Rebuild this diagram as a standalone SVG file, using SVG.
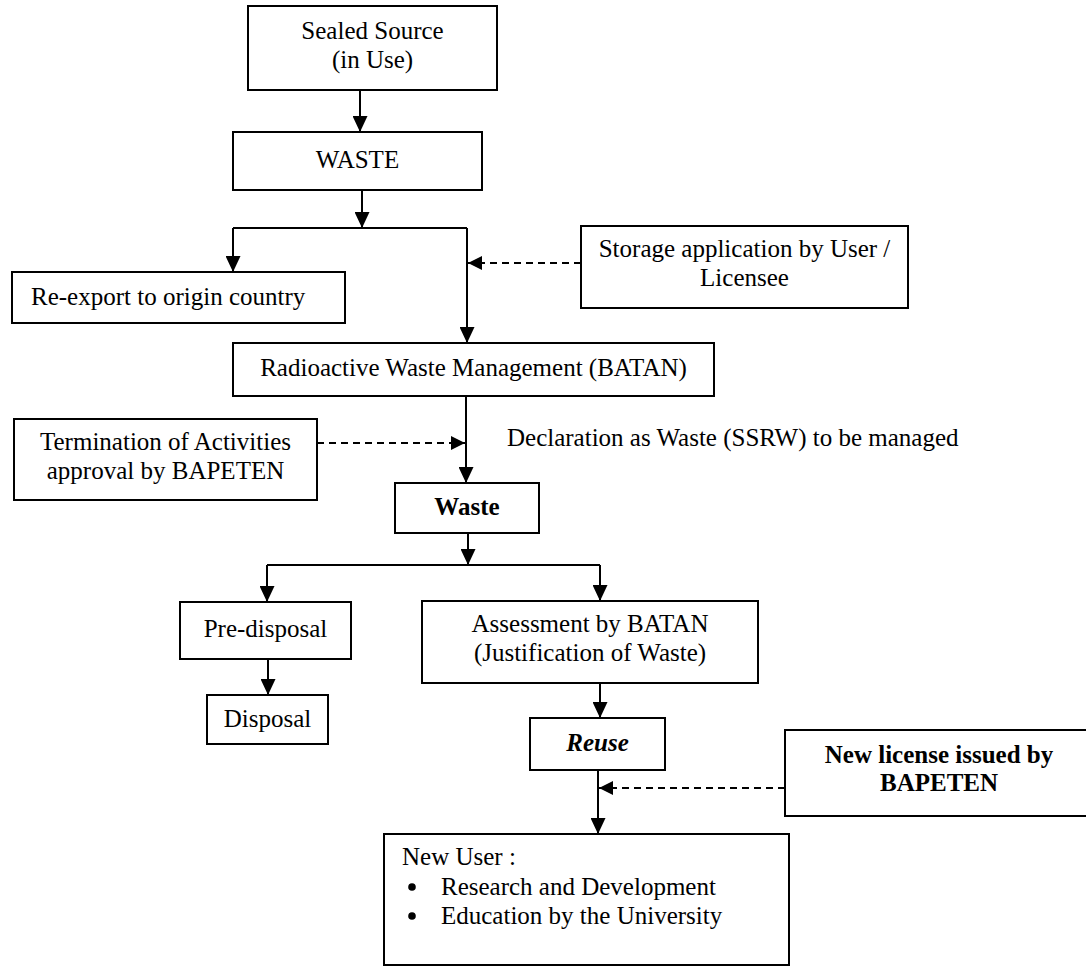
<svg xmlns="http://www.w3.org/2000/svg" width="1086" height="967" viewBox="0 0 1086 967">
<style>
  .box { fill: #fff; stroke: #000; stroke-width: 2; }
  .t { font-family: "Liberation Serif", "Times New Roman", serif; font-size: 25px; fill: #000; }
  .c { text-anchor: middle; }
  .b { font-weight: bold; }
  .bi { font-weight: bold; font-style: italic; }
  .ln { fill: none; stroke: #000; stroke-width: 2; }
  .dash { stroke-dasharray: 7 5; }
</style>
<defs>
  <marker id="ah" markerUnits="userSpaceOnUse" markerWidth="17" markerHeight="15" viewBox="0 0 17 15" refX="16" refY="7.5" orient="auto">
    <path d="M0,0 L16,7.5 L0,15 Z" fill="#000"/>
  </marker>
  <marker id="ahd" markerUnits="userSpaceOnUse" markerWidth="15" markerHeight="14" viewBox="0 0 15 14" refX="14" refY="7" orient="auto">
    <path d="M0,0 L14,7 L0,14 Z" fill="#000"/>
  </marker>
</defs>
<rect width="1086" height="967" fill="#fff"/>

<g id="connectors">
  <line class="ln" x1="360" y1="90" x2="360" y2="132" marker-end="url(#ah)"/>
  <line class="ln" x1="362" y1="190" x2="362" y2="228" marker-end="url(#ah)"/>
  <polyline class="ln" points="233,228 467,228"/>
  <line class="ln" x1="233" y1="228" x2="233" y2="272" marker-end="url(#ah)"/>
  <line class="ln" x1="467" y1="228" x2="467" y2="343" marker-end="url(#ah)"/>
  <line class="ln dash" x1="581" y1="263" x2="468" y2="263" marker-end="url(#ahd)"/>
  <line class="ln" x1="466" y1="396" x2="466" y2="483" marker-end="url(#ah)"/>
  <line class="ln dash" x1="317" y1="443" x2="465" y2="443" marker-end="url(#ahd)"/>
  <line class="ln" x1="468" y1="533" x2="468" y2="565" marker-end="url(#ah)"/>
  <polyline class="ln" points="267,565 600,565"/>
  <line class="ln" x1="267" y1="565" x2="267" y2="602" marker-end="url(#ah)"/>
  <line class="ln" x1="600" y1="565" x2="600" y2="601" marker-end="url(#ah)"/>
  <line class="ln" x1="268" y1="659" x2="268" y2="695" marker-end="url(#ah)"/>
  <line class="ln" x1="600" y1="683" x2="600" y2="718" marker-end="url(#ah)"/>
  <line class="ln" x1="598" y1="770" x2="598" y2="834" marker-end="url(#ah)"/>
  <line class="ln dash" x1="785" y1="788" x2="599" y2="788" marker-end="url(#ahd)"/>
</g>

<g id="sealed-source">
  <rect class="box" x="248" y="6" width="249" height="84"/>
  <text class="t c" x="372.5" y="39">Sealed Source</text>
  <text class="t c" x="372.5" y="68">(in Use)</text>
</g>
<g id="waste-top">
  <rect class="box" x="233" y="132" width="249" height="58"/>
  <text class="t c" x="357.5" y="168">WASTE</text>
</g>
<g id="re-export">
  <rect class="box" x="12" y="272" width="333" height="51"/>
  <text class="t" x="31" y="305">Re-export to origin country</text>
</g>
<g id="storage-application">
  <rect class="box" x="581" y="226" width="327" height="82"/>
  <text class="t c" x="744.5" y="257">Storage application by User /</text>
  <text class="t c" x="744.5" y="286">Licensee</text>
</g>
<g id="radioactive-waste-management">
  <rect class="box" x="233" y="343" width="481" height="53"/>
  <text class="t c" x="473.5" y="376">Radioactive Waste Management (BATAN)</text>
</g>
<g id="termination">
  <rect class="box" x="14" y="419" width="303" height="81"/>
  <text class="t c" x="165.5" y="450">Termination of Activities</text>
  <text class="t c" x="165.5" y="479">approval by BAPETEN</text>
</g>
<g id="declaration-label">
  <text class="t" x="507" y="446">Declaration as Waste (SSRW) to be managed</text>
</g>
<g id="waste">
  <rect class="box" x="395" y="483" width="144" height="50"/>
  <text class="t c b" x="467" y="515">Waste</text>
</g>
<g id="pre-disposal">
  <rect class="box" x="180" y="602" width="171" height="57"/>
  <text class="t c" x="265.5" y="637">Pre-disposal</text>
</g>
<g id="disposal">
  <rect class="box" x="207" y="695" width="121" height="49"/>
  <text class="t c" x="267.5" y="727">Disposal</text>
</g>
<g id="assessment">
  <rect class="box" x="422" y="601" width="336" height="82"/>
  <text class="t c" x="590" y="632">Assessment by BATAN</text>
  <text class="t c" x="590" y="661">(Justification of Waste)</text>
</g>
<g id="reuse">
  <rect class="box" x="530" y="718" width="135" height="52"/>
  <text class="t c bi" x="597.5" y="751">Reuse</text>
</g>
<g id="new-license">
  <rect class="box" x="785" y="730" width="330" height="86"/>
  <text class="t c b" x="939" y="763">New license issued by</text>
  <text class="t c b" x="939" y="791">BAPETEN</text>
</g>
<g id="new-user">
  <rect class="box" x="384" y="834" width="405" height="131"/>
  <text class="t" x="402" y="865">New User :</text>
  <circle cx="412" cy="887" r="3.8" fill="#000"/>
  <text class="t" x="441" y="895">Research and Development</text>
  <circle cx="412" cy="916" r="3.8" fill="#000"/>
  <text class="t" x="441" y="924">Education by the University</text>
</g>
</svg>
